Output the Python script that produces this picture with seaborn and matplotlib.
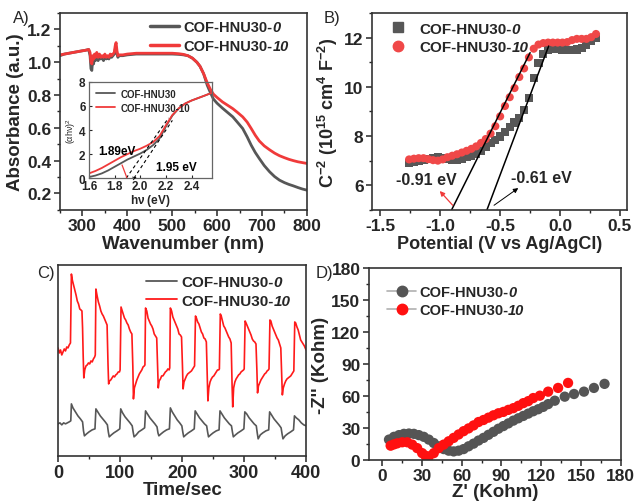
import matplotlib
matplotlib.use("Agg")
import matplotlib.pyplot as plt
import seaborn as sns
import pandas as pd
from matplotlib.lines import Line2D
from matplotlib.ticker import MultipleLocator

# ---------------- data ----------------
series_names = ["COF-HNU30-0", "COF-HNU30-10"]
name_stem = "COF-HNU30-"
name_suffix = ["0", "10"]

# Panel A: absorbance
wl = [250,260,270,280,290,300,305,310,314,317,319,321,323,325,327,329,332,335,338,341,
      344,347,350,353,356,359,362,365,368,371,373,375,377,379,382,386,390,400,420,440,
      460,480,500,515,525,535,545,555,562,570,578,585,592,600,612,625,635,645,657,667,
      676,685,694,705,717,728,739,750,760,770,780,790,800]
abs0 = [1.04,1.05,1.055,1.06,1.065,1.07,1.072,1.075,1.078,1.04,0.96,0.95,1.02,0.99,1.04,1.01,1.05,1.01,1.04,1.02,
        1.03,1.01,1.04,1.02,1.03,1.02,1.04,1.03,1.04,1.05,1.08,1.09,1.05,1.03,1.04,1.04,1.04,1.045,1.05,1.05,
        1.05,1.05,1.05,1.048,1.045,1.04,1.025,1.0,0.975,0.93,0.86,0.815,0.775,0.75,0.72,0.69,0.667,0.635,0.596,0.545,
        0.494,0.45,0.413,0.37,0.332,0.303,0.281,0.266,0.255,0.246,0.236,0.227,0.22]
abs10 = [1.045,1.05,1.055,1.06,1.065,1.07,1.072,1.075,1.078,1.06,1.0,0.99,1.04,1.02,1.05,1.03,1.06,1.03,1.05,1.03,
         1.04,1.03,1.05,1.03,1.04,1.03,1.05,1.04,1.05,1.06,1.10,1.12,1.07,1.04,1.045,1.045,1.045,1.05,1.055,1.055,
         1.055,1.055,1.055,1.052,1.048,1.04,1.025,1.0,0.975,0.93,0.875,0.835,0.805,0.785,0.758,0.735,0.717,0.695,0.667,0.635,
         0.596,0.555,0.52,0.49,0.466,0.446,0.43,0.418,0.408,0.4,0.393,0.388,0.383]

# Panel A inset: Tauc plot
hv = [1.60,1.65,1.70,1.75,1.80,1.85,1.90,1.95,2.00,2.05,2.10,2.15,2.20,2.25,2.30,2.35,2.40,2.45,2.50,2.56]
ahv0 = [0.10,0.22,0.40,0.65,0.95,1.25,1.55,1.80,2.05,2.35,2.75,3.30,4.30,5.20,5.80,6.20,6.45,6.65,6.85,7.10]
ahv10 = [0.40,0.60,0.85,1.15,1.45,1.75,2.00,2.25,2.45,2.70,3.00,3.50,4.40,5.25,5.80,6.20,6.45,6.65,6.85,7.10]
inset_names = ["COF-HNU30", "COF-HNU30-10"]
tan1_x, tan1_y = [1.89, 2.22], [0.0, 5.0]
tan2_x, tan2_y = [1.95, 2.25], [0.0, 4.8]

# Panel B: Mott-Schottky
pot = [-1.26,-1.22,-1.18,-1.14,-1.10,-1.06,-1.02,-0.98,-0.94,-0.90,-0.86,-0.82,-0.78,-0.74,-0.70,-0.66,-0.62,-0.58,-0.54,-0.50,
       -0.46,-0.42,-0.38,-0.34,-0.30,-0.26,-0.22,-0.18,-0.14,-0.10,-0.06,-0.02,0.02,0.06,0.10,0.14,0.18,0.22,0.26,0.30]
ms0 = [6.92,6.95,6.98,7.02,7.08,7.12,7.15,7.12,7.05,7.02,7.04,7.08,7.13,7.20,7.28,7.40,7.55,7.70,7.85,7.98,
       8.15,8.35,8.55,8.75,9.05,9.55,10.35,10.98,11.32,11.52,11.56,11.55,11.52,11.50,11.50,11.52,11.58,11.70,11.85,12.0]
ms10 = [7.05,7.08,7.10,7.10,7.06,7.02,7.00,7.05,7.14,7.20,7.26,7.33,7.40,7.48,7.58,7.72,7.88,8.10,8.40,8.80,
        9.22,9.58,9.95,10.40,10.75,11.20,11.55,11.72,11.78,11.80,11.80,11.80,11.80,11.82,11.90,11.95,11.95,11.95,12.02,12.15]
fit0_x, fit0_y = [-0.61, -0.095], [5.0, 11.66]
fit10_x, fit10_y = [-0.905, -0.25], [5.0, 11.39]

# Panel C: photocurrent (arbitrary units)
t0 = [0,3,6,9,12,15,18,20.5,
      21.5,24,28,32,36,39.5,41,42.5,46,50,55,59.5,
      61,64,68,72,76,79.5,81,82.5,86,90,95,99.5,
      101,104,108,112,116,119.5,121,122.5,126,130,135,139.5,
      141,144,148,152,156,159.5,161,162.5,166,170,175,179.5,
      181,184,188,192,196,199.5,201,202.5,206,210,215,219.5,
      221,224,228,232,236,239.5,241,242.5,246,250,255,259.5,
      261,264,268,272,276,279.5,281,282.5,286,290,295,299.5,
      301,304,308,312,316,319.5,321,322.5,326,330,335,339.5,
      341,344,348,352,356,359.5,361,362.5,366,370,375,379.5,
      381,384,388,392,396,400]
i0 = [32,33,31,33,32,33,34,35,
      52,48,44,40,37,34,25,20,22,24,26,27,
      47,44,40,37,34,31,24,19,21,23,25,27,
      47,43,39,36,33,30,24,19,21,24,26,28,
      45,42,38,35,32,29,23,20,22,24,26,27,
      48,44,40,36,33,30,24,19,21,23,25,27,
      45,42,38,35,32,30,24,19,21,23,25,26,
      45,42,38,35,32,30,24,19,21,23,25,27,
      44,42,38,35,32,30,23,17,21,23,25,26,
      44,41,37,34,31,28,22,17,20,22,24,26,
      40,38,36,33,31,30]
t10 = [0,2,4,6,8,10,12,14,16,18,20,
       21.5,23,25,27,29,31,33,35,37,38.5,39.5,40.5,41.5,43,45,47,49,51,53,55,57,59,60,
       61,63,65,67,69,71,73,75,77,79,80.5,81.5,83,85,87,89,91,93,95,97,99,100,
       101.5,103,105,107,109,111,113,115,117,119,120.5,121.5,123,125,127,129,131,133,135,137,139,140,
       141,143,145,147,149,151,153,155,157,159,160.5,161.5,163,165,167,169,171,173,175,177,179,180,
       181,183,185,187,189,191,193,195,197,199,200.5,201.5,203,205,207,209,211,213,215,217,219,220,
       221.5,223,225,227,229,231,233,235,237,239,240.5,241.5,243,245,247,249,251,253,255,257,259,260,
       261.5,263,265,267,269,271,273,275,277,279,280.5,281.5,283,285,287,289,291,293,295,297,299,300,
       301.5,303,305,307,309,311,313,315,317,319,320.5,321.5,323,325,327,329,331,333,335,337,339,340,
       341.5,343,345,347,349,351,353,355,357,359,360.5,361.5,363,365,367,369,371,373,375,377,379,380,
       381.5,383,385,387,389,391,393,395,397,399,400]
i10 = [108,103,106,101,104,107,105,109,108,111,113,
       182,176,171,166,161,155,152,147,146,145,128,100,78,86,90,91,93,92,95,94,97,99,101,
       167,160,154,150,145,142,140,137,134,131,92,72,75,76,78,80,79,81,82,84,84,86,
       149,146,142,138,136,133,131,127,124,122,90,57,68,72,76,79,82,84,86,89,90,91,
       148,145,138,135,132,130,127,122,120,118,90,68,75,77,80,80,82,84,85,87,86,88,
       148,145,139,136,133,130,127,122,121,119,90,67,74,77,80,82,83,84,85,87,89,90,
       140,138,134,132,128,124,122,118,117,114,80,55,68,74,77,79,80,82,84,86,86,87,
       142,140,135,130,128,125,122,119,117,113,70,49,68,74,77,79,81,82,84,85,86,87,
       135,133,130,127,124,121,117,115,114,112,85,63,70,73,76,78,80,82,83,85,86,87,
       136,135,130,127,124,121,118,116,112,108,80,61,68,72,75,77,78,79,80,82,84,85,
       134,133,129,126,121,116,114,112,110,107,106]

# Panel D: Nyquist
zr0 = [5.25,9,12.75,16.5,20.25,24,27.75,31.5,35.25,39,42.75,46.5,50.25,54,57.75,61.5,65.25,69,72.75,76.5,
       80.25,84,87.75,91.5,95.25,99,102.75,106.5,110.25,114,117.75,121.5,125.25,130.25,137.75,144.75,152.25,159.75,167.75]
zi0 = [19.0,21.6,23.2,24.4,24.7,24.4,23.2,21.6,19.0,15.8,12.7,10.1,8.6,7.9,8.6,10.1,12.7,15.2,18.1,20.6,
       23.5,26.3,29.2,31.7,34.2,36.8,39.0,41.2,43.4,45.6,47.5,49.7,52.3,55.5,59.3,61.8,64.0,67.5,71.3]
zr10 = [6.5,9,11.5,15.25,19,22.75,26.5,30.25,32.75,35.25,39,42.75,46.5,50.25,54,57.75,61.5,65.25,69,72.75,
        76.5,80.25,84,87.75,91.5,95.25,99,102.75,106.5,110.25,114,119,125.25,132.75,140.25]
zi10 = [13.3,14.5,15.5,16.5,16.5,14.3,11.0,6.3,3.8,3.2,6.3,11.0,14.3,17.4,20.6,23.8,26.9,29.5,32.3,35.5,
        37.4,39.6,41.8,43.7,45.0,46.9,48.5,50.7,53.2,55.1,58.0,60.2,64.0,67.5,72.2]

# ---------------- style ----------------
sns.set_style("ticks")
plt.rcParams.update({
    "font.family": ["Liberation Sans", "DejaVu Sans"],
    "font.weight": "bold",
    "axes.labelweight": "bold",
    "axes.unicode_minus": False,
    "mathtext.fontset": "custom",
    "mathtext.rm": "Liberation Sans:weight=bold",
    "mathtext.it": "Liberation Sans:style=italic:weight=bold",
    "mathtext.bf": "Liberation Sans:weight=bold",
    "mathtext.sf": "Liberation Sans:weight=normal",
    "mathtext.default": "rm",
    "axes.linewidth": 1.2,
})

GRAY = "#575757"
RED = "#f03a3a"
RED2 = "#ff1a1a"
stem_labels = [name_stem, name_stem]

fig = plt.figure(figsize=(6.38, 5.02), dpi=100)
axA = fig.add_axes([0.094, 0.580, 0.387, 0.392])
axB = fig.add_axes([0.583, 0.580, 0.400, 0.392])
axC = fig.add_axes([0.091, 0.090, 0.389, 0.380])
axD = fig.add_axes([0.578, 0.082, 0.395, 0.382])
axI = fig.add_axes([0.1395, 0.643, 0.193, 0.192])

def style(ax, fs=12.5):
    ax.tick_params(which="major", direction="out", length=4, width=1.1, labelsize=fs, pad=2)
    ax.tick_params(which="minor", direction="out", length=2.2, width=1.0)
    for s in ax.spines.values():
        s.set_visible(True)
        s.set_linewidth(1.2)
        s.set_color("#333333")
    for lb in ax.get_xticklabels() + ax.get_yticklabels():
        lb.set_fontweight("bold")

legends = []

# ---- Panel A ----
dfA = pd.DataFrame({"wl": wl * 2, "abs": abs0 + abs10,
                    "s": [series_names[0]] * len(wl) + [series_names[1]] * len(wl)})
sns.lineplot(data=dfA, x="wl", y="abs", hue="s", palette=[GRAY, RED], sort=False,
             estimator=None, lw=2.0, ax=axA, legend=False)
axA.set_xlim(250, 800)
axA.set_ylim(0.1, 1.3)
axA.xaxis.set_major_locator(MultipleLocator(100))
axA.xaxis.set_minor_locator(MultipleLocator(50))
axA.yaxis.set_major_locator(MultipleLocator(0.2))
axA.yaxis.set_minor_locator(MultipleLocator(0.1))
axA.set_xlabel("Wavenumber (nm)", fontsize=13.5, labelpad=1)
axA.set_ylabel("Absorbance (a.u.)", fontsize=13.5, labelpad=2)
style(axA)
axA.set_xticks([300, 400, 500, 600, 700, 800])
axA.set_xticklabels(["300", "400", "500", "600", "700", "800"], fontweight="bold")
legends.append(axA.legend([Line2D([0], [0], color=GRAY, lw=2.5), Line2D([0], [0], color=RED, lw=2.5)],
           stem_labels, loc="upper left", bbox_to_anchor=(0.31, 1.03), frameon=False,
           fontsize=10.5, handlelength=2.0, handletextpad=0.3, labelspacing=0.3))

# ---- Inset ----
dfI = pd.DataFrame({"hv": hv * 2, "a": ahv0 + ahv10,
                    "s": [inset_names[0]] * len(hv) + [inset_names[1]] * len(hv)})
sns.lineplot(data=dfI, x="hv", y="a", hue="s", palette=[GRAY, RED], sort=False,
             estimator=None, lw=1.3, ax=axI, legend=False)
axI.plot(tan1_x, tan1_y, color="k", ls=(0, (3, 2.5)), lw=0.8)
axI.plot(tan2_x, tan2_y, color="k", ls=(0, (3, 2.5)), lw=0.8)
axI.set_facecolor("none")
axI.set_xlim(1.6, 2.56)
axI.set_ylim(0, 8)
axI.set_xticks([1.6, 1.8, 2.0, 2.2, 2.4])
axI.set_yticks([0, 2, 4, 6, 8])
axI.tick_params(direction="in", length=2.5, width=0.8, labelsize=8.5, pad=1.5)
axI.tick_params(axis="y", pad=2.5)
for lb in axI.get_xticklabels() + axI.get_yticklabels():
    lb.set_fontweight("bold")
for s in axI.spines.values():
    s.set_color("#666666")
    s.set_linewidth(0.9)
axI.set_xlabel(r"h$\nu$ (eV)", fontsize=8.5, labelpad=0)
axI.set_ylabel(r"$\mathsf{(\alpha h\nu)^2}$", fontsize=6.5, labelpad=1, fontweight="normal")
axI.legend([Line2D([0], [0], color=GRAY, lw=1.3), Line2D([0], [0], color=RED, lw=1.3)],
           inset_names, loc="upper left", frameon=False, fontsize=7, handlelength=2.0,
           handletextpad=0.6, labelspacing=0.4, borderaxespad=0.3)
axI.annotate("1.89eV", xy=(1.895, 0.05), xytext=(1.815, 2.3), fontsize=8.5, color="k",
             ha="center", va="center",
             arrowprops=dict(arrowstyle="-", color=RED, lw=0.9, shrinkA=4, shrinkB=0))
axI.annotate("1.95 eV", xy=(1.965, 0.05), xytext=(2.28, 0.95), fontsize=8.5, color="k",
             ha="center", va="center",
             arrowprops=dict(arrowstyle="<-", color="k", lw=0.6, shrinkA=12, shrinkB=0,
                             mutation_scale=5))

# ---- Panel B ----
dfB = pd.DataFrame({"pot": pot * 2, "c": ms0 + ms10,
                    "s": [series_names[0]] * len(pot) + [series_names[1]] * len(pot)})
sns.scatterplot(data=dfB, x="pot", y="c", hue="s", style="s", markers=["s", "o"],
                palette=[GRAY, "#f04848"], s=34, linewidth=0, ax=axB, legend=False)
axB.plot(fit10_x, fit10_y, color="k", lw=1.1)
axB.plot(fit0_x, fit0_y, color="k", lw=1.1)
axB.set_xlim(-1.57, 0.56)
axB.set_ylim(5, 13)
axB.xaxis.set_major_locator(MultipleLocator(0.5))
axB.xaxis.set_minor_locator(MultipleLocator(0.25))
axB.yaxis.set_major_locator(MultipleLocator(2))
axB.yaxis.set_minor_locator(MultipleLocator(1))
axB.set_xlabel("Potential (V vs Ag/AgCl)", fontsize=13, labelpad=1)
axB.set_ylabel(r"C$^{-2}$ (10$^{15}$ cm$^4$ F$^{-2}$)", fontsize=13, labelpad=3)
style(axB)
axB.set_xticks([-1.5, -1.0, -0.5, 0.0, 0.5])
axB.set_xticklabels(["-1.5", "-1.0", "-0.5", "0.0", "0.5"], fontweight="bold")
axB.annotate("-0.91 eV", xy=(-1.02, 5.85), xytext=(-1.12, 6.25), fontsize=11.5,
             ha="center", va="center")
axB.annotate("", xy=(-1.02, 5.85), xytext=(-0.88, 5.1),
             arrowprops=dict(arrowstyle="-|>", color=RED, lw=0.9, mutation_scale=7))
axB.annotate("-0.61 eV", xy=(-0.3, 6.25), xytext=(-0.16, 6.3), fontsize=11.5,
             ha="center", va="center")
axB.annotate("", xy=(-0.33, 5.95), xytext=(-0.57, 5.12),
             arrowprops=dict(arrowstyle="-|>", color="k", lw=0.7, mutation_scale=7))
legends.append(axB.legend([Line2D([0], [0], ls="", marker="s", color=GRAY, ms=7),
            Line2D([0], [0], ls="", marker="o", color="#f04848", ms=7.5)],
           stem_labels, loc="upper left", bbox_to_anchor=(0.0, 1.01), frameon=False,
           fontsize=11, handletextpad=0.4, labelspacing=0.3, borderaxespad=0.3))

# ---- Panel C ----
dfC = pd.DataFrame({"t": t0 + t10, "i": i0 + i10,
                    "s": [series_names[0]] * len(t0) + [series_names[1]] * len(t10)})
sns.lineplot(data=dfC, x="t", y="i", hue="s", palette=[GRAY, RED2], sort=False,
             estimator=None, lw=1.2, ax=axC, legend=False)
axC.set_xlim(0, 400)
axC.set_ylim(0, 191)
axC.set_yticks([])
axC.xaxis.set_major_locator(MultipleLocator(100))
axC.xaxis.set_minor_locator(MultipleLocator(50))
axC.set_xlabel("Time/sec", fontsize=13.5, labelpad=0)
axC.set_ylabel("")
style(axC, fs=13)
legends.append(axC.legend([Line2D([0], [0], color=GRAY, lw=1.3), Line2D([0], [0], color=RED2, lw=1.3)],
           stem_labels, loc="upper left", bbox_to_anchor=(0.30, 1.02), frameon=False,
           fontsize=11, handlelength=2.0, handletextpad=0.3, labelspacing=0.3))

# ---- Panel D ----
dfD = pd.DataFrame({"zr": zr0 + zr10, "zi": zi0 + zi10,
                    "s": [series_names[0]] * len(zr0) + [series_names[1]] * len(zr10)})
sns.scatterplot(data=dfD, x="zr", y="zi", hue="s", palette=["#555555", "#ff1010"],
                s=55, linewidth=0, ax=axD, legend=False)
axD.set_xlim(-10, 180)
axD.set_ylim(0, 180)
axD.xaxis.set_major_locator(MultipleLocator(30))
axD.xaxis.set_minor_locator(MultipleLocator(15))
axD.yaxis.set_major_locator(MultipleLocator(30))
axD.yaxis.set_minor_locator(MultipleLocator(15))
axD.set_xlabel("Z' (Kohm)", fontsize=13.5, labelpad=0)
axD.set_ylabel("-Z'' (Kohm)", fontsize=13.5, labelpad=2)
style(axD)
legends.append(axD.legend([Line2D([0], [0], color="#b0b0b0", lw=1.2, marker="o", mfc="#555555", mec="#555555", ms=7.5),
            Line2D([0], [0], color="#b0b0b0", lw=1.2, marker="o", mfc="#ff1010", mec="#ff1010", ms=7.5)],
           stem_labels, loc="upper left", bbox_to_anchor=(0.02, 0.98), frameon=False,
           fontsize=10.5, handlelength=2.0, handletextpad=0.2, labelspacing=0.3))

# italic suffixes appended to legend labels
fig.canvas.draw()
renderer = fig.canvas.get_renderer()
inv = fig.transFigure.inverted()
for leg in legends:
    for txt, suf in zip(leg.get_texts(), name_suffix):
        bb = txt.get_window_extent(renderer)
        x0, y0 = inv.transform((bb.x1, bb.y0))
        fig.text(x0, y0, suf, fontsize=txt.get_fontsize(), fontweight="bold",
                 fontstyle="italic", family="Liberation Sans", ha="left", va="bottom")

# panel letters
for txt, x, y in [("A)", 0.02, 0.963), ("B)", 0.508, 0.963), ("C)", 0.058, 0.455), ("D)", 0.494, 0.455)]:
    fig.text(x, y, txt, fontsize=12, fontweight="normal", ha="left", va="center")

fig.savefig("out.png", dpi=100)
